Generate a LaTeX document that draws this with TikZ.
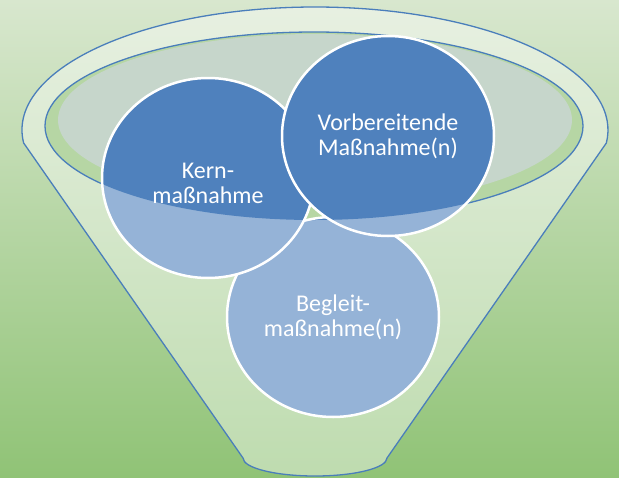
\documentclass[tikz,border=0pt]{standalone}
\usepackage{fontspec}
\setmainfont{Carlito}
\usepackage{tikz}
\usetikzlibrary{shapes.geometric}

\definecolor{bgtop}{HTML}{D8E7CE}
\definecolor{bgbot}{HTML}{90C376}
\definecolor{funnelblue}{HTML}{4A7EBB}
\definecolor{mouthgreen}{HTML}{B6D6A4}
\definecolor{liquid}{HTML}{C6D6CB}
\definecolor{darkblue}{HTML}{4F81BD}
\definecolor{lightblue}{HTML}{95B3D7}

\begin{document}
\begin{tikzpicture}[
  x=1pt, y=-1pt,
  rimline/.style={draw=funnelblue, line width=1.3pt},
  disc/.style={ellipse, draw=white, line width=2.5pt, fill=lightblue,
               minimum width=212pt, minimum height=200pt, inner sep=0pt,
               text=white, align=center, font=\fontsize{24}{25}\selectfont,
               path picture={\fill[darkblue] (mouth) ellipse [x radius=269, y radius=94];}},
]

%% ---- Background ----
\useasboundingbox (0,0) rectangle (619,477);
\shade[top color=bgtop, bottom color=bgbot] (0,0) rectangle (619,477);

%% ---- Funnel ----
\coordinate (mouth) at (314,126);
\coordinate (liq)   at (315,120);
\draw[rimline, fill=white, fill opacity=.42]
  ([shift={(315,130)}]173.93:293 and 123)
  arc[start angle=173.93, end angle=366.07, x radius=293, y radius=123]
  -- (387,458) arc[start angle=0, end angle=180, x radius=72, y radius=18]
  -- cycle;
\fill[mouthgreen] (mouth) ellipse [x radius=269, y radius=94];
\fill[liquid] (liq) ellipse [x radius=257, y radius=86];
\draw[rimline] (mouth) ellipse [x radius=269, y radius=94];

%% ---- Circles ----
\node[disc] (begleit) at (333,317) {Begleit-\\maßnahme(n)};
\node[disc, text height=52pt] (kern) at (208,178) {Kern-\\maßnahme};
\node[disc] (vorb)    at (388,136) {Vorbereitende\\Maßnahme(n)};

\end{tikzpicture}
\end{document}
